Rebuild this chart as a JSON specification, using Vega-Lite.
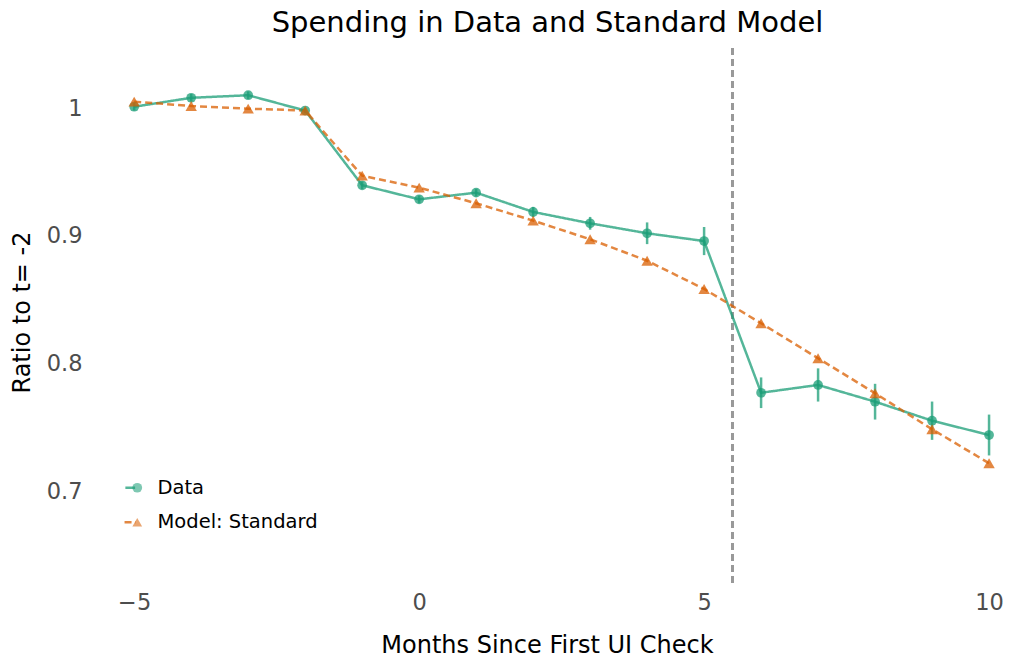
{
  "$schema": "https://vega.github.io/schema/vega-lite/v6.json",
  "autosize": {"type": "none"},
  "width": 909,
  "height": 535,
  "padding": {"left": 100, "top": 48, "right": 1, "bottom": 83},
  "background": "white",
  "title": {"text": "Spending in Data and Standard Model", "font": "DejaVu Sans", "fontSize": 29, "fontWeight": "normal", "color": "black", "offset": 9, "anchor": "middle", "dx": -7},
  "config": {
    "view": {"stroke": null},
    "font": "DejaVu Sans",
    "axis": {"grid": false, "domain": false, "ticks": false, "labelFont": "DejaVu Sans", "labelFontSize": 22.5, "labelColor": "#4d4d4d", "titleFont": "DejaVu Sans", "titleFontSize": 24, "titleFontWeight": "normal", "titleColor": "black"}
  },
  "data": {"values": [
    {"month": -5, "series": "Data", "value": 1.001, "err": 0.003},
    {"month": -4, "series": "Data", "value": 1.008, "err": 0.003},
    {"month": -3, "series": "Data", "value": 1.010, "err": 0.003},
    {"month": -2, "series": "Data", "value": 0.998, "err": 0.002},
    {"month": -1, "series": "Data", "value": 0.9395, "err": 0.003},
    {"month": 0, "series": "Data", "value": 0.9285, "err": 0.003},
    {"month": 1, "series": "Data", "value": 0.9337, "err": 0.003},
    {"month": 2, "series": "Data", "value": 0.9186, "err": 0.004},
    {"month": 3, "series": "Data", "value": 0.9097, "err": 0.005},
    {"month": 4, "series": "Data", "value": 0.9019, "err": 0.0085},
    {"month": 5, "series": "Data", "value": 0.8958, "err": 0.011},
    {"month": 6, "series": "Data", "value": 0.777, "err": 0.012},
    {"month": 7, "series": "Data", "value": 0.7831, "err": 0.013},
    {"month": 8, "series": "Data", "value": 0.770, "err": 0.014},
    {"month": 9, "series": "Data", "value": 0.7551, "err": 0.015},
    {"month": 10, "series": "Data", "value": 0.7439, "err": 0.016},
    {"month": -5, "series": "Model: Standard", "value": 1.005},
    {"month": -4, "series": "Model: Standard", "value": 1.0016},
    {"month": -3, "series": "Model: Standard", "value": 0.9995},
    {"month": -2, "series": "Model: Standard", "value": 0.998},
    {"month": -1, "series": "Model: Standard", "value": 0.947},
    {"month": 0, "series": "Model: Standard", "value": 0.9376},
    {"month": 1, "series": "Model: Standard", "value": 0.9254},
    {"month": 2, "series": "Model: Standard", "value": 0.9118},
    {"month": 3, "series": "Model: Standard", "value": 0.8972},
    {"month": 4, "series": "Model: Standard", "value": 0.8804},
    {"month": 5, "series": "Model: Standard", "value": 0.8583},
    {"month": 6, "series": "Model: Standard", "value": 0.8314},
    {"month": 7, "series": "Model: Standard", "value": 0.804},
    {"month": 8, "series": "Model: Standard", "value": 0.7766},
    {"month": 9, "series": "Model: Standard", "value": 0.7484},
    {"month": 10, "series": "Model: Standard", "value": 0.7218}
  ]},
  "encoding": {
    "x": {"field": "month", "type": "quantitative", "scale": {"domain": [-5.6, 10.35], "nice": false, "zero": false}, "axis": {"values": [-5, 0, 5, 10], "labelPadding": 8, "title": "Months Since First UI Check", "titlePadding": 20, "titleX": 447}},
    "y": {"field": "value", "type": "quantitative", "scale": {"domain": [0.628, 1.047], "nice": false, "zero": false}, "axis": {"values": [0.7, 0.8, 0.9, 1.0], "format": "~g", "labelPadding": 18, "title": "Ratio to t= -2", "titlePadding": 12, "titleY": 264}}
  },
  "layer": [
    {
      "mark": {"type": "rule", "color": "#999999", "strokeWidth": 2, "strokeDash": [7, 4]},
      "encoding": {"x": {"datum": 5.5}, "y": null}
    },
    {
      "transform": [{"filter": "datum.series === 'Data'"}],
      "mark": {"type": "errorbar", "color": "#1b9e77", "opacity": 0.75, "thickness": 2.5},
      "encoding": {"y": {"field": "value", "type": "quantitative"}, "yError": {"field": "err"}}
    },
    {
      "mark": {"type": "line", "strokeWidth": 2.5, "opacity": 0.75},
      "encoding": {
        "color": {"field": "series", "type": "nominal", "scale": {"domain": ["Data", "Model: Standard"], "range": ["#1b9e77", "#d95f02"]},
          "legend": {"title": null, "orient": "none", "legendX": 20.5, "legendY": 430, "padding": 0, "symbolSize": 1024, "symbolType": "stroke", "rowPadding": 13.5, "labelFont": "DejaVu Sans", "labelFontSize": 19.5, "labelColor": "black", "labelOffset": 17.5, "labelLimit": 400, "symbolStrokeWidth": 2.5}},
        "strokeDash": {"field": "series", "type": "nominal", "scale": {"domain": ["Data", "Model: Standard"], "range": [[1, 0], [7, 4]]},
          "legend": {"title": null, "orient": "none", "legendX": 20.5, "legendY": 430, "padding": 0, "symbolSize": 1024, "symbolType": "stroke", "rowPadding": 13.5, "labelFont": "DejaVu Sans", "labelFontSize": 19.5, "labelColor": "black", "labelOffset": 17.5, "labelLimit": 400, "symbolStrokeWidth": 2.5}}
      }
    },
    {
      "mark": {"type": "point", "filled": true, "opacity": 0.75},
      "encoding": {
        "fill": {"field": "series", "type": "nominal", "scale": {"domain": ["Model: Standard", "Data"], "range": ["#d95f02", "#1b9e77"]},
          "legend": {"title": null, "values": ["Data", "Model: Standard"], "orient": "none", "legendX": 27.5, "legendY": 430, "padding": 0, "symbolSize": 95, "rowPadding": 13.5, "labelFont": "DejaVu Sans", "labelFontSize": 19.5, "labelOpacity": 0, "labelExpr": "''", "labelOffset": 6, "labelLimit": 400}},
        "shape": {"field": "series", "type": "nominal", "scale": {"domain": ["Model: Standard", "Data"], "range": ["triangle-up", "circle"]},
          "legend": {"title": null, "values": ["Data", "Model: Standard"], "orient": "none", "legendX": 27.5, "legendY": 430, "padding": 0, "symbolSize": 95, "rowPadding": 13.5, "labelFont": "DejaVu Sans", "labelFontSize": 19.5, "labelOpacity": 0, "labelExpr": "''", "labelOffset": 6, "labelLimit": 400}},
        "size": {"field": "series", "type": "nominal", "scale": {"domain": ["Data", "Model: Standard"], "range": [95, 130]}, "legend": null}
      }
    }
  ]
}
